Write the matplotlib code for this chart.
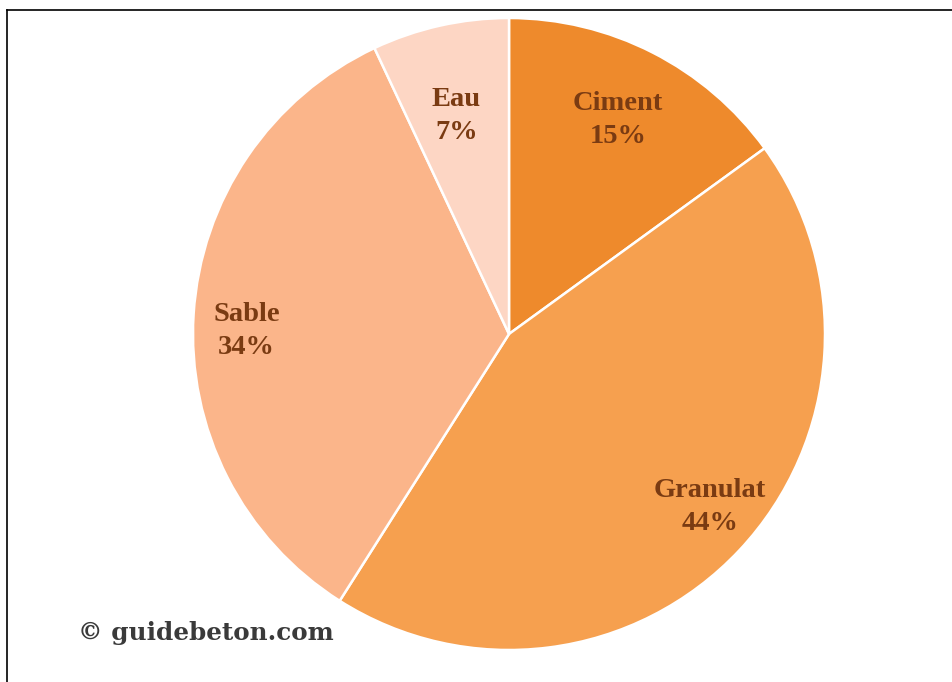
import numpy as np
import matplotlib.pyplot as plt
from matplotlib.lines import Line2D

# composition du beton
categories = ['Ciment', 'Granulat', 'Sable', 'Eau']
shares = [15, 44, 34, 7]
colors = ['#ee8a2c', '#f6a04f', '#fbb58a', '#fdd6c4']
label_r = [0.76, 0.84, 0.83, 0.71]
label_dang = [0, 2.5, 3.0, 1.0]

W, H = 953, 682
fig = plt.figure(figsize=(W / 100, H / 100), dpi=100)
ax = fig.add_axes([0, 0, 1, 1])

cx, cy, R = 509, H - 334, 316
wedges, _ = ax.pie(shares, colors=colors, startangle=90, counterclock=False,
                   center=(cx, cy), radius=R, frame=True,
                   wedgeprops=dict(edgecolor='white', linewidth=1.8))
ax.set_xlim(0, W)
ax.set_ylim(0, H)
ax.set_aspect('equal')
ax.axis('off')

for w, name, val, fr, da in zip(wedges, categories, shares, label_r, label_dang):
    mid = np.deg2rad((w.theta1 + w.theta2) / 2 + da)
    x = cx + fr * R * np.cos(mid)
    y = cy + fr * R * np.sin(mid)
    ax.text(x, y, f'{name}\n{val}%', ha='center', va='center',
            fontsize=20.5, fontweight='bold', family='Liberation Serif',
            color='#7a3b12', linespacing=1.4)

ax.text(78, H - 633, '\u00a9 guidebeton.com', ha='left', va='center',
        fontsize=17.7, fontweight='bold', family='DejaVu Serif',
        color='#3a3a3a')

# cadre
fig.add_artist(Line2D([7 / W, 1], [1 - 10 / H, 1 - 10 / H], color='black', lw=1.2))
fig.add_artist(Line2D([7 / W, 7 / W], [0, 1 - 10 / H], color='black', lw=1.2))

fig.savefig('out.png', dpi=100, facecolor='white')
